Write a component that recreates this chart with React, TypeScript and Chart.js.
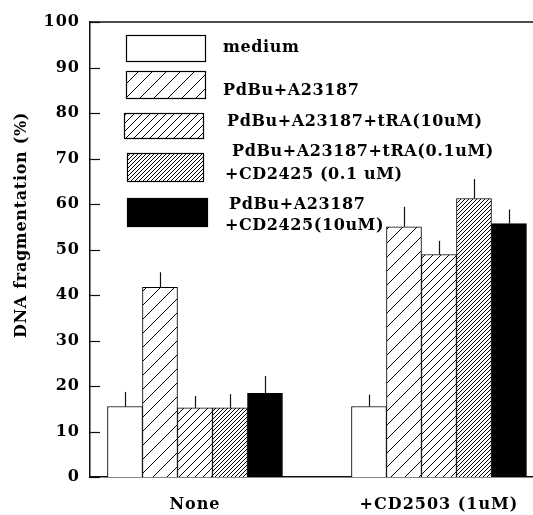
import React, { useEffect, useRef } from 'react';
import { Chart, registerables } from 'chart.js';

Chart.register(...registerables);

// ---- data ----
const categories = ['None', '+CD2503 (1uM)'];
const categoryPositions = [1, 2];

const seriesNames = [
  'medium',
  'PdBu+A23187',
  'PdBu+A23187+tRA(10uM)',
  'PdBu+A23187+tRA(0.1uM) +CD2425 (0.1 uM)',
  'PdBu+A23187 +CD2425(10uM)',
];
const legendLines = [
  ['medium'],
  ['PdBu+A23187'],
  ['PdBu+A23187+tRA(10uM)'],
  ['PdBu+A23187+tRA(0.1uM)', '+CD2425 (0.1 uM)'],
  ['PdBu+A23187', '+CD2425(10uM)'],
];

const mediumValues = [15.5, 15.5];
const pdbuValues = [41.7, 55.0];
const traHighValues = [15.2, 48.9];
const traLowCdValues = [15.2, 61.2];
const cdHighValues = [18.4, 55.7];

const mediumErrors = [3.2, 2.6];
const pdbuErrors = [3.3, 4.4];
const traHighErrors = [2.6, 3.0];
const traLowCdErrors = [3.0, 4.3];
const cdHighErrors = [3.8, 3.1];

const yTickValues = [0, 10, 20, 30, 40, 50, 60, 70, 80, 90, 100];
const yTitle = 'DNA fragmentation (%)';

const valueSets = [mediumValues, pdbuValues, traHighValues, traLowCdValues, cdHighValues];
const errorSets = [mediumErrors, pdbuErrors, traHighErrors, traLowCdErrors, cdHighErrors];

const FONT = "'DejaVu Serif', serif";

function makeHatch(size: number): CanvasPattern | string {
  const c = document.createElement('canvas');
  c.width = size;
  c.height = size;
  const t = c.getContext('2d');
  if (!t) return '#fff';
  t.fillStyle = '#fff';
  t.fillRect(0, 0, size, size);
  t.strokeStyle = '#000';
  t.lineWidth = 1;
  t.beginPath();
  t.moveTo(0, size);
  t.lineTo(size, 0);
  t.moveTo(-1, 1);
  t.lineTo(1, -1);
  t.moveTo(size - 1, size + 1);
  t.lineTo(size + 1, size - 1);
  t.stroke();
  return t.createPattern(c, 'repeat') || '#fff';
}

// legend layout (box x, y, w, h; text lines [x, y])
const legendLayout = [
  { box: [126, 35, 79, 26], text: [[223, 48]] },
  { box: [126, 71, 79, 27], text: [[223, 91]] },
  { box: [124, 113, 79, 25], text: [[227, 122]] },
  { box: [127, 153, 76, 28], text: [[232, 152], [225, 175]] },
  { box: [127, 198, 80, 28], text: [[229, 205], [225, 226]] },
];

export default function App() {
  const ref = useRef<HTMLCanvasElement | null>(null);

  useEffect(() => {
    if (!ref.current) return;
    const fills: (string | CanvasPattern)[] = ['#ffffff', makeHatch(14), makeHatch(8), makeHatch(4), '#000000'];

    const decor = {
      id: 'decor',
      beforeLayout(chart: any) {
        (chart.ctx as any).letterSpacing = '1px';
      },
      beforeDraw(chart: any) {
        (chart.ctx as any).letterSpacing = '1px';
      },
      afterDatasetsDraw(chart: any) {
        const ctx = chart.ctx as CanvasRenderingContext2D;
        const ys = chart.scales.y;
        ctx.save();
        ctx.strokeStyle = '#111';
        ctx.lineWidth = 1.2;
        errorSets.forEach((errs, i) => {
          const meta = chart.getDatasetMeta(i);
          meta.data.forEach((bar: any, j: number) => {
            const top = ys.getPixelForValue(valueSets[i][j] + errs[j]);
            const x = Math.round(bar.x) + 0.5;
            ctx.beginPath();
            ctx.moveTo(x, bar.y);
            ctx.lineTo(x, top);
            ctx.stroke();
          });
        });
        ctx.restore();
      },
      afterDraw(chart: any) {
        const ctx = chart.ctx as CanvasRenderingContext2D;
        const area = chart.chartArea;
        const ys = chart.scales.y;
        ctx.save();
        // top border
        ctx.strokeStyle = '#111';
        ctx.lineWidth = 1.5;
        ctx.beginPath();
        ctx.moveTo(area.left, area.top);
        ctx.lineTo(chart.width, area.top);
        ctx.stroke();
        // inward ticks
        ctx.lineWidth = 1.2;
        yTickValues.forEach((v) => {
          const py = Math.round(ys.getPixelForValue(v)) + 0.5;
          ctx.beginPath();
          ctx.moveTo(area.left, py);
          ctx.lineTo(area.left + 10, py);
          ctx.stroke();
        });
        // y title
        ctx.fillStyle = '#000';
        ctx.font = `bold 16px ${FONT}`;
        (ctx as any).letterSpacing = '0.7px';
        ctx.textAlign = 'center';
        ctx.textBaseline = 'middle';
        ctx.save();
        ctx.translate(22, 225);
        ctx.rotate(-Math.PI / 2);
        ctx.fillText(yTitle, 0, 0);
        ctx.restore();
        // legend
        (ctx as any).letterSpacing = '0.6px';
        legendLayout.forEach((item, i) => {
          const [bx, by, bw, bh] = item.box;
          ctx.fillStyle = fills[i] as any;
          ctx.fillRect(bx, by, bw, bh);
          ctx.strokeStyle = '#000';
          ctx.lineWidth = 1.2;
          ctx.strokeRect(bx + 0.5, by + 0.5, bw, bh);
          ctx.fillStyle = '#000';
          ctx.font = `bold 16px ${FONT}`;
          ctx.textAlign = 'left';
          ctx.textBaseline = 'middle';
          legendLines[i].forEach((line, k) => {
            const [tx, ty] = item.text[k];
            ctx.fillText(line, tx, ty);
          });
        });
        ctx.restore();
      },
    };

    const chart = new Chart(ref.current, {
      type: 'bar',
      data: {
        datasets: valueSets.map((vals, i) => ({
          label: seriesNames[i],
          data: vals.map((v, j) => ({ x: categoryPositions[j], y: v })),
          backgroundColor: fills[i] as any,
          borderColor: '#000',
          borderWidth: 1,
          barThickness: 35,
        })),
      },
      options: {
        responsive: false,
        animation: false,
        layout: { padding: { top: 22, left: 0, right: 0, bottom: 0 } },
        plugins: { legend: { display: false }, tooltip: { enabled: false } },
        scales: {
          x: {
            type: 'linear',
            min: 0.5697,
            max: 2.3853,
            offset: false,
            grid: { display: false, drawTicks: false, offset: false },
            border: { display: true, color: '#111', width: 1.5 },
            afterBuildTicks: (scale: any) => {
              scale.ticks = categoryPositions.map((v) => ({ value: v }));
            },
            afterFit: (scale: any) => {
              scale.height = 38;
              scale.paddingLeft = 0;
              scale.paddingRight = 0;
            },
            ticks: {
              autoSkip: false,
              maxRotation: 0,
              padding: 18,
              color: '#000',
              font: { family: FONT, size: 16, weight: 'bold' },
              callback: (value: any) => categories[categoryPositions.indexOf(Number(value))] ?? '',
            },
          },
          y: {
            type: 'linear',
            min: 0,
            max: 100,
            grid: { display: false, drawTicks: false },
            border: { display: true, color: '#111', width: 1.5 },
            afterFit: (scale: any) => {
              scale.width = 90;
            },
            ticks: {
              stepSize: 10,
              padding: 10,
              color: '#000',
              font: { family: FONT, size: 16, weight: 'bold' },
            },
          },
        },
      },
      plugins: [decor],
    } as any);

    return () => chart.destroy();
  }, []);

  return (
    <div style={{ position: 'absolute', left: 0, top: 0, width: 533, height: 515, background: '#fff' }}>
      <canvas ref={ref} width={533} height={515} style={{ display: 'block' }} />
    </div>
  );
}
